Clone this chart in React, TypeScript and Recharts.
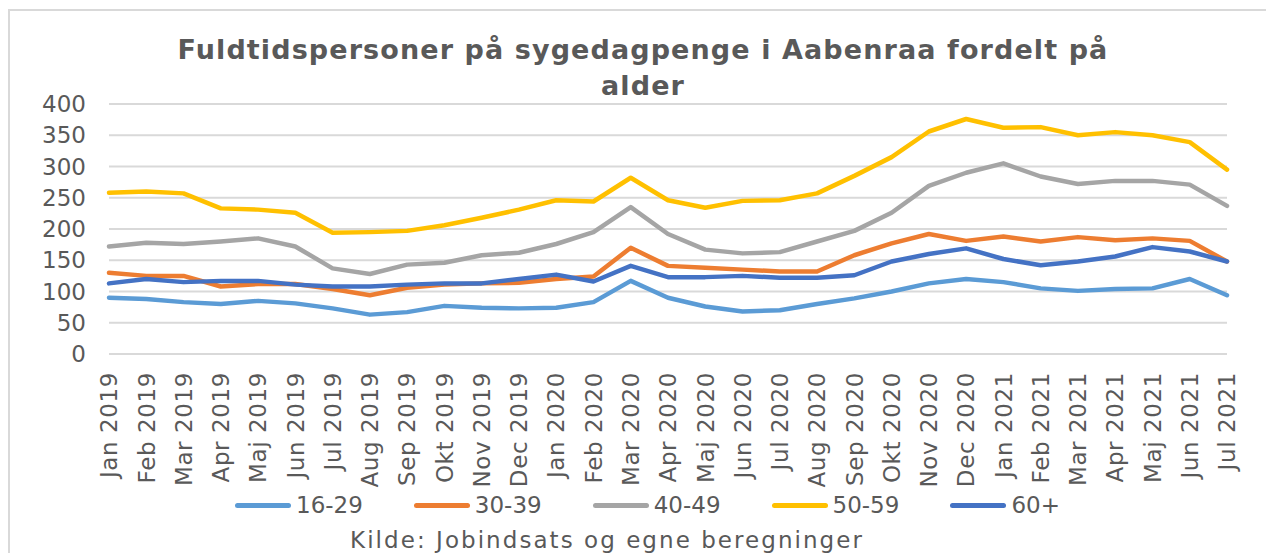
import React from 'react';
import { LineChart, Line, XAxis, YAxis, CartesianGrid } from 'recharts';

const MONTHS = [
  'Jan 2019', 'Feb 2019', 'Mar 2019', 'Apr 2019', 'Maj 2019', 'Jun 2019', 'Jul 2019', 'Aug 2019',
  'Sep 2019', 'Okt 2019', 'Nov 2019', 'Dec 2019', 'Jan 2020', 'Feb 2020', 'Mar 2020', 'Apr 2020',
  'Maj 2020', 'Jun 2020', 'Jul 2020', 'Aug 2020', 'Sep 2020', 'Okt 2020', 'Nov 2020', 'Dec 2020',
  'Jan 2021', 'Feb 2021', 'Mar 2021', 'Apr 2021', 'Maj 2021', 'Jun 2021', 'Jul 2021',
];

const AGE_16_29 = [90, 88, 83, 80, 85, 81, 73, 63, 67, 77, 74, 73, 74, 83, 117, 90, 76, 68, 70, 80, 89, 100, 113, 120, 115, 105, 101, 104, 105, 120, 94];
const AGE_30_39 = [130, 125, 125, 108, 112, 112, 104, 94, 106, 111, 113, 114, 120, 124, 170, 141, 138, 135, 132, 132, 158, 177, 192, 181, 188, 180, 187, 182, 185, 181, 148];
const AGE_40_49 = [172, 178, 176, 180, 185, 172, 137, 128, 143, 146, 158, 162, 176, 195, 235, 192, 167, 161, 163, 180, 197, 226, 269, 290, 305, 284, 272, 277, 277, 271, 237];
const AGE_50_59 = [258, 260, 257, 233, 231, 226, 194, 195, 197, 206, 218, 231, 246, 244, 282, 246, 234, 245, 246, 257, 285, 315, 356, 376, 362, 363, 350, 355, 350, 339, 295];
const AGE_60_PLUS = [113, 120, 115, 117, 117, 111, 108, 108, 111, 113, 113, 120, 127, 116, 141, 123, 123, 125, 122, 122, 126, 148, 160, 169, 152, 142, 148, 156, 171, 164, 148];

const Y_TICKS = [0, 50, 100, 150, 200, 250, 300, 350, 400];

const SERIES = [
  { key: '16-29', values: AGE_16_29, color: '#5B9BD5' },
  { key: '30-39', values: AGE_30_39, color: '#ED7D31' },
  { key: '40-49', values: AGE_40_49, color: '#A5A5A5' },
  { key: '50-59', values: AGE_50_59, color: '#FFC000' },
  { key: '60+', values: AGE_60_PLUS, color: '#4472C4' },
];

const data = MONTHS.map((month, i) => {
  const row: Record<string, string | number> = { month };
  SERIES.forEach((s) => { row[s.key] = s.values[i]; });
  return row;
});

const FONT = '"DejaVu Sans", Verdana, sans-serif';
const TEXT = '#595959';

const MonthTick = (props: any) => {
  const { x, y, payload } = props;
  return (
    <text
      x={x}
      y={y}
      dy="0.36em"
      textAnchor="end"
      transform={`rotate(-90, ${x}, ${y})`}
      fontFamily={FONT}
      fontSize={23}
      letterSpacing={0.6}
      fill={TEXT}
    >
      {payload.value}
    </text>
  );
};

export default function App() {
  return (
    <div style={{ position: 'absolute', left: 0, top: 0, width: 1266, height: 553, background: '#fff', overflow: 'hidden' }}>
      {/* chart area border */}
      <div style={{ position: 'absolute', left: 8, top: 9, width: 1270, height: 560, border: '2px solid #d9d9d9', boxSizing: 'border-box' }} />

      <LineChart width={1266} height={553} data={data} margin={{ top: 104, right: 39, left: 9, bottom: 69 }}>
        <CartesianGrid vertical={false} stroke="#d9d9d9" strokeWidth={2} />
        <XAxis
          dataKey="month"
          interval={0}
          height={130}
          tickLine={false}
          axisLine={false}
          tickSize={0}
          tickMargin={18}
          tick={<MonthTick />}
        />
        <YAxis
          domain={[0, 400]}
          ticks={Y_TICKS}
          width={100}
          tickLine={false}
          axisLine={false}
          tickSize={0}
          tickMargin={23}
          tick={{ fontFamily: FONT, fontSize: 23, fill: TEXT }}
        />
        {SERIES.map((s) => (
          <Line
            key={s.key}
            dataKey={s.key}
            type="linear"
            stroke={s.color}
            strokeWidth={4.5}
            strokeLinejoin="round"
            strokeLinecap="round"
            dot={false}
            activeDot={false}
            isAnimationActive={false}
          />
        ))}
      </LineChart>

      <svg width={1266} height={553} style={{ position: 'absolute', left: 0, top: 0, pointerEvents: 'none' }}>
        <text x={643} y={59} textAnchor="middle" fontFamily={FONT} fontWeight="bold" fontSize={27} letterSpacing={1.1} fill={TEXT}>
          Fuldtidspersoner på sygedagpenge i Aabenraa fordelt på
        </text>
        <text x={643} y={95} textAnchor="middle" fontFamily={FONT} fontWeight="bold" fontSize={27} letterSpacing={1.1} fill={TEXT}>
          alder
        </text>
        <text x={607} y={548} textAnchor="middle" fontFamily={FONT} fontSize={23} letterSpacing={2.05} fill={TEXT}>
          Kilde: Jobindsats og egne beregninger
        </text>
      </svg>

      {/* legend */}
      <div style={{ position: 'absolute', left: 235, top: 490, display: 'flex', alignItems: 'center', height: 30, fontFamily: FONT, fontSize: 23, color: TEXT }}>
        {SERIES.map((s) => (
          <div key={s.key} style={{ display: 'flex', alignItems: 'center', marginRight: 51 }}>
            <div style={{ width: 56, height: 5, borderRadius: 3, background: s.color, marginRight: 5 }} />
            <span>{s.key}</span>
          </div>
        ))}
      </div>
    </div>
  );
}
